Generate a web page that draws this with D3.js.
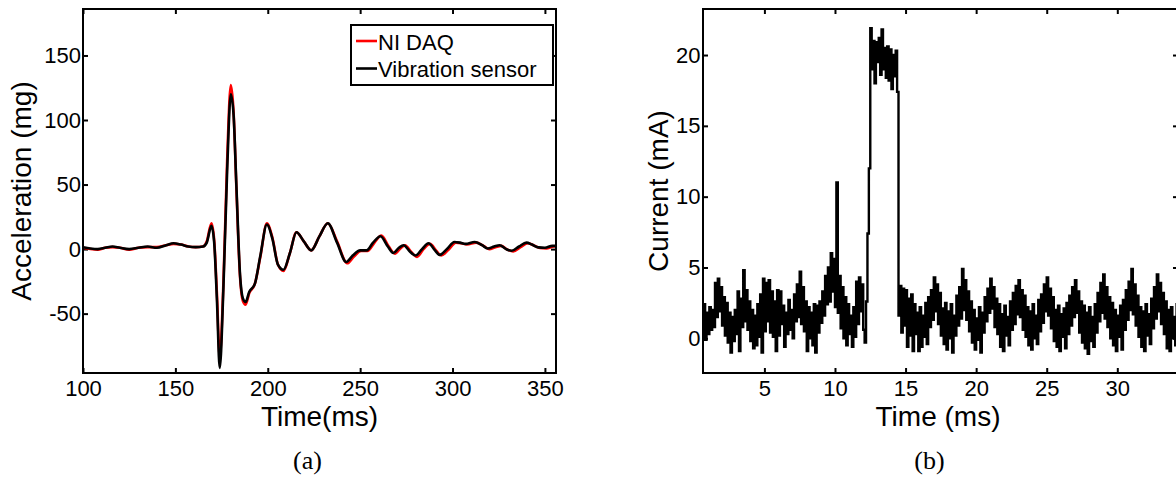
<!DOCTYPE html>
<html>
<head>
<meta charset="utf-8">
<script src="https://cdn.jsdelivr.net/npm/d3@7"></script>
<style>
  body { margin: 0; background: #fff; }
  svg { display: block; }
  .tick text { font-family: "Liberation Sans", Arial, sans-serif; font-size: 22px; fill: #000; }
  .tick line { stroke: #000; stroke-width: 2px; }
  .lbl { font-family: "Liberation Sans", Arial, sans-serif; font-size: 28px; fill: #000; }
  .cap { font-family: "Liberation Serif", "Times New Roman", serif; font-size: 26px; fill: #000; }
</style>
</head>
<body>
<svg id="chart"></svg>
<script>
const W = 1176, H = 483;

// (a) acceleration, ms / mg
const timeVib = [100,104,108,112,116,120,125,130,135,140,145,149,153,157,161,165,167,169.5,171,172.5,
  174,176,178,180,181.5,183,185,186.5,188,190,193,196,199.5,202.5,205.5,208.5,212,215.5,219.5,223.5,
  228,232.5,237.5,242.5,246,250,253.5,257,261,265,268,271,273.5,277,280,283.5,287,290.5,293,297,
  301,304,307,312,316,319,322.5,325.5,329,332,336,340,343,346.5,350,354,356];
const vibration = [1.5,0.5,0,1,2,1,0,1,2,1,
  3,4.5,3.5,2,1.5,2,5,18,5,-40,
  -92,-30,60,120,104,50,-20,-38,-41,-33,
  -27,-5,19,8,-12,-16,-3,13,6,-1,
  10,20,5,-10,-5,-1,-1,5,10,2,
  -3,1,3,-2,-5,0,4.5,-1,-4.5,0,
  5.5,5,4,5.5,3,0.5,2,3,0,-1.3,
  2,5,3.5,1.3,1,2.5,2.5];

const timeDaq = [100,104,108,112,116,120,125,130,135,140,145,149,153,157,161,165,167,169.5,171,172.5,
  174,176,178,180,181.5,183,185,186.5,188,190,193,196,199.5,202.5,205.5,208.5,212,215.5,219.5,223.5,
  228,232.5,237.5,243,246.5,250.5,254,257.5,261.5,265.5,268.8,271.8,274.3,277.8,280.8,284.3,287.8,291.3,293.8,297.8,
  301.8,304.8,307.8,312.8,316.8,319.8,323.3,326.3,329.8,332.8,336.8,340.8,343.8,347.3,350.8,354.8,356];
const niDaq = [1,0,-0.5,1,1.5,1,-0.5,1,1.5,1.5,
  3,4,3.5,2,1.5,2,6,20,7,-35,
  -84,-26,68,127,106,48,-22,-40,-43,-34,
  -27,-6,20,9,-12,-17,-3,13,6,-1,
  10,20,6,-11,-6,-1.5,-1.5,4.5,10.5,2,
  -3.5,0.5,3,-2.5,-6,0,4,-1.5,-5,-0.5,
  5,4.5,3.5,5,2.5,0,1.5,2.5,-0.5,-1.8,
  1.5,4.5,3,0.8,0.5,2,2];

const legendNames = ["NI DAQ", "Vibration sensor"];
const legendColors = ["#ff0000", "#000000"];
const ticksA_x = [100,150,200,250,300,350];
const ticksA_y = [-50,0,50,100,150];

// (b) current, sampled every 0.1 ms from 0.7 ms
const currentT0 = 0.7, currentStep = 0.1;
const current = [
  2.4,-0.1,1.8,0.3,2.2,0.6,2.0,0.8,3.9,1.5,
  4.2,1.9,3.6,0.9,2.9,0.2,2.5,-0.3,1.8,-1.0,
  1.5,-0.2,2.0,0.3,3.3,-0.9,2.8,0.8,4.8,1.2,
  3.4,0.6,2.6,-0.2,2.0,-0.7,1.6,-0.5,2.4,0.1,
  3.1,-1.0,4.2,0.5,3.9,1.2,4.1,0.4,3.3,0.1,
  2.6,-0.9,3.4,0.2,3.3,1.0,2.3,-0.6,1.8,0.3,
  2.7,0.6,2.0,0.0,3.1,1.2,3.8,1.5,4.7,1.0,
  3.6,0.5,2.6,-0.9,2.2,0.0,1.8,-0.5,2.4,-1.0,
  2.3,0.4,2.6,1.1,3.3,1.6,4.4,2.4,5.0,2.6,
  6.0,3.3,5.6,2.2,11.0,1.8,4.4,0.7,3.6,0.0,
  2.9,-0.5,2.4,0.3,1.6,-0.6,2.2,0.1,4.0,1.0,
  4.3,1.9,3.8,0.6,-0.3,2.6,7.4,12.0,21.9,19.0,
  21.0,18.0,20.9,19.5,21.2,18.6,21.8,19.0,20.5,18.4,
  20.6,18.2,20.4,17.6,20.0,18.5,20.3,17.4,1.6,3.7,
  0.4,3.5,0.9,3.4,-0.6,2.8,0.2,3.1,-0.9,2.4,
  0.3,1.8,-0.9,2.2,-0.6,1.6,0.1,2.5,-0.4,2.9,
  0.8,3.4,1.3,4.3,1.9,3.8,1.0,3.2,0.2,2.1,
  -0.4,2.5,-0.8,1.9,0.0,2.4,-1.0,1.6,0.2,3.0,
  0.9,3.6,1.4,4.9,2.0,4.1,1.3,3.3,0.5,2.6,
  -0.3,2.0,-0.8,1.4,-0.1,2.2,-1.0,1.8,0.4,2.9,
  1.2,3.5,1.8,4.2,2.1,3.6,0.8,2.8,0.3,2.4,
  -0.6,1.7,-0.9,2.3,0.2,1.5,-0.5,2.6,0.6,3.2,
  1.0,3.7,1.7,4.1,1.5,3.4,0.6,3.0,0.1,2.2,
  -0.5,1.9,-0.8,2.4,0.0,1.6,-0.4,2.7,0.5,3.1,
  1.1,3.8,1.9,4.3,1.6,3.5,0.7,2.9,-0.2,2.0,
  -0.6,2.3,-0.9,1.7,0.1,2.1,-0.7,2.5,0.3,3.0,
  0.9,3.6,1.5,4.1,1.8,3.3,0.4,2.6,-0.3,2.3,
  -0.7,1.8,-1.1,2.2,-0.2,1.5,-0.6,2.4,0.4,3.2,
  1.2,3.9,1.8,4.5,1.4,3.6,0.8,2.9,0.0,2.5,
  -0.5,2.0,-0.9,1.6,0.1,2.3,-0.8,2.7,0.6,3.4,
  1.3,4.0,2.0,4.9,1.7,3.8,0.9,3.0,0.1,2.2,
  -0.6,1.9,-0.9,2.4,0.2,1.7,-0.4,2.8,0.7,3.6,
  1.4,4.5,1.9,3.9,1.0,3.2,0.3,2.6,-0.7,2.0,
  -0.9,2.2,0.0,1.5,-0.5,2.4,0.5];
const ticksB_x = [5,10,15,20,25,30];
const ticksB_y = [0,5,10,15,20];

const svg = d3.select("#chart").attr("width", W).attr("height", H);

// draws a MATLAB-style boxed axes, returns the plot group
function makeAxes(id, x, y, xt, yt, yPad) {
  const [x0, x1] = x.range(), [y1, y0] = y.range();
  const g = svg.append("g");
  g.append("clipPath").attr("id", id).append("rect")
    .attr("x", x0).attr("y", y0).attr("width", x1 - x0).attr("height", y1 - y0);

  const tick = 5;
  g.append("g").attr("transform", `translate(0,${y1})`)
    .call(d3.axisBottom(x).tickValues(xt).tickSize(-tick).tickPadding(7.5).tickFormat(d3.format("d")));
  g.append("g").attr("transform", `translate(0,${y0})`)
    .call(d3.axisTop(x).tickValues(xt).tickSize(-tick).tickFormat(""));
  g.append("g").attr("transform", `translate(${x0},0)`)
    .call(d3.axisLeft(y).tickValues(yt).tickSize(-tick).tickPadding(yPad).tickFormat(d => String(d)));
  g.append("g").attr("transform", `translate(${x1},0)`)
    .call(d3.axisRight(y).tickValues(yt).tickSize(-tick).tickFormat(""));
  g.selectAll(".domain").remove();
  g.selectAll(".tick text").attr("font-family", null).attr("font-size", null);

  const plot = g.append("g").attr("clip-path", `url(#${id})`);
  g.append("rect").attr("x", x0).attr("y", y0).attr("width", x1 - x0).attr("height", y1 - y0)
    .attr("fill", "none").attr("stroke", "#000").attr("stroke-width", 2);
  return plot;
}

// ---- panel (a)
const xA = d3.scaleLinear().domain([100, 356]).range([83, 556]);
const yA = d3.scaleLinear().domain([-96, 186]).range([373, 9]);
const plotA = makeAxes("clipA", xA, yA, ticksA_x, ticksA_y, 2);

const lineA = d3.line().x(d => xA(d[0])).y(d => yA(d[1])).curve(d3.curveMonotoneX);
plotA.append("path")
  .datum(d3.zip(timeDaq, niDaq))
  .attr("fill", "none").attr("stroke", legendColors[0]).attr("stroke-width", 2.6)
  .attr("d", lineA);
plotA.append("path")
  .datum(d3.zip(timeVib, vibration))
  .attr("fill", "none").attr("stroke", legendColors[1]).attr("stroke-width", 2.6)
  .attr("d", lineA);

// legend
const leg = svg.append("g");
leg.append("rect").attr("x", 351).attr("y", 25).attr("width", 202).attr("height", 60)
  .attr("fill", "#fff").attr("stroke", "#000").attr("stroke-width", 2);
legendNames.forEach((name, i) => {
  const cy = 41 + i * 27.5;
  leg.append("line").attr("x1", 356).attr("x2", 377).attr("y1", cy).attr("y2", cy)
    .attr("stroke", legendColors[i]).attr("stroke-width", 2.6);
  leg.append("text").attr("x", 378).attr("y", cy + 8.5)
    .attr("font-family", "Liberation Sans, Arial, sans-serif").attr("font-size", 22)
    .text(name);
});

svg.append("text").attr("class", "lbl").attr("x", 319.5).attr("y", 426)
  .attr("text-anchor", "middle").text("Time(ms)");
svg.append("text").attr("class", "lbl").attr("transform", "translate(31,191) rotate(-90)")
  .attr("text-anchor", "middle").text("Acceleration (mg)");
svg.append("text").attr("class", "cap").attr("x", 307.5).attr("y", 469)
  .attr("text-anchor", "middle").text("(a)");

// ---- panel (b)
const xB = d3.scaleLinear().domain([0.65, 34.3]).range([703, 1178]);
const yB = d3.scaleLinear().domain([-2.45, 23.25]).range([373, 9]);
const plotB = makeAxes("clipB", xB, yB, ticksB_x, ticksB_y, 2.5);

const currentData = current.map((v, i) => [currentT0 + i * currentStep, v]);
plotB.append("path")
  .datum(currentData)
  .attr("fill", "none").attr("stroke", "#000").attr("stroke-width", 2.4)
  .attr("d", d3.line().x(d => xB(d[0])).y(d => yB(d[1])).curve(d3.curveStepAfter));

svg.append("text").attr("class", "lbl").attr("x", 938).attr("y", 426)
  .attr("text-anchor", "middle").text("Time (ms)");
svg.append("text").attr("class", "lbl").attr("transform", "translate(668,191) rotate(-90)")
  .attr("text-anchor", "middle").text("Current (mA)");
svg.append("text").attr("class", "cap").attr("x", 929.5).attr("y", 469)
  .attr("text-anchor", "middle").text("(b)");
</script>
</body>
</html>
